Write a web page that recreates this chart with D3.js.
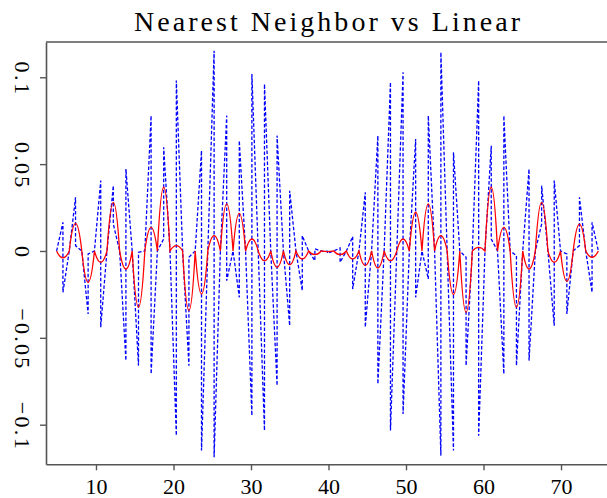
<!DOCTYPE html>
<html><head><meta charset="utf-8">
<script src="https://cdn.jsdelivr.net/npm/d3@7"></script>
<style>body{margin:0;background:#fff}svg{display:block}</style>
</head><body><svg id="c" width="607" height="498"></svg>
<script>
// sample positions (where both interpolation errors vanish)
const sampleX = [4.92,6.55,8.17,9.80,11.42,13.05,14.67,16.30,17.92,19.55,21.18,22.80,24.43,26.05,27.68,29.30,30.93,32.55,34.18,35.80,37.43,39.06,40.68,42.31,43.93,45.56,47.18,48.81,50.43,52.06,53.69,55.31,56.94,58.56,60.19,61.81,63.44,65.06,66.69,68.31,69.94,71.57,73.19,74.82];
// nearest neighbor: value just before and just after each jump (midway between samples)
const blueLeft  = [0.0165,0.0309,-0.0363,0.0405,0.0376,-0.0631,-0.0660,0.0779,0.0069,-0.1063,-0.0660,0.0578,0.1153,0.0779,-0.0267,-0.0948,-0.1034,-0.0775,-0.0430,-0.0228,-0.0056,-0.0002,0.0017,0.0083,0.0338,0.0664,0.0971,0.1029,0.0645,-0.0161,-0.1178,-0.1149,-0.0036,0.0981,0.0606,-0.0708,-0.0027,0.0472,0.0155,-0.0430,-0.0017,0.0031,-0.0238];
const blueRight = [-0.0238,0.0031,-0.0017,-0.0439,0.0155,0.0472,-0.0008,-0.0708,0.0597,0.0981,-0.0036,-0.1149,-0.1188,-0.0171,0.0635,0.1019,0.0961,0.0664,0.0347,0.0088,0.0012,-0.0013,-0.0065,-0.0219,-0.0439,-0.0766,-0.1034,-0.0938,-0.0267,0.0779,0.1144,0.0568,-0.0660,-0.1063,0.0069,0.0779,-0.0660,-0.0631,0.0376,0.0405,-0.0363,0.0309,0.0165];
// linear: extreme of each arc between samples
const redMid = [-0.0040,0.0159,-0.0180,-0.0065,0.0280,-0.0104,-0.0324,0.0136,0.0367,0.0031,-0.0343,-0.0248,0.0088,0.0271,0.0217,0.0069,-0.0056,-0.0094,-0.0079,-0.0046,-0.0021,-0.0004,-0.0021,-0.0046,-0.0084,-0.0098,-0.0056,0.0069,0.0223,0.0271,0.0088,-0.0251,-0.0353,0.0021,0.0367,0.0136,-0.0324,-0.0104,0.0280,-0.0065,-0.0175,0.0155,-0.0036];
const xTicks = [10,20,30,40,50,60,70];
const yTicks = [-0.1,-0.05,0,0.05,0.1];
const yTickLabels = ["\u22120.1","\u22120.05","0","0.05","0.1"];
const title = "Nearest Neighbor vs Linear";

const svg = d3.select("#c");
const x = d3.scaleLinear().domain([3.55,76.45]).range([46,611]);
const y = d3.scaleLinear().domain([-0.1228,0.1203]).range([464.3,42]);
const FONT = "'Liberation Serif','DejaVu Serif',serif";
const AX = "#555";

// blue nearest-neighbour curve
const bluePts = [[sampleX[0],0]];
for (let k=0;k<sampleX.length-1;k++){
  const m=(sampleX[k]+sampleX[k+1])/2;
  bluePts.push([m,blueLeft[k]],[m,blueRight[k]],[sampleX[k+1],0]);
}
const line = d3.line().x(d=>x(d[0])).y(d=>y(d[1]));
svg.append("path").attr("d",line(bluePts)).attr("fill","none")
  .attr("stroke","#0000ff").attr("stroke-width",1.3).attr("stroke-dasharray","3.5,2");

// red linear-interpolation curve: arcs between samples
const p = d3.path();
p.moveTo(x(sampleX[0]),y(0));
for (let k=0;k<sampleX.length-1;k++){
  const m=(sampleX[k]+sampleX[k+1])/2;
  p.quadraticCurveTo(x(m),y(2*redMid[k]),x(sampleX[k+1]),y(0));
}
svg.append("path").attr("d",p.toString()).attr("fill","none")
  .attr("stroke","#ff0000").attr("stroke-width",1.3);

// frame
svg.append("line").attr("x1",x.range()[0]).attr("x2",x.range()[1])
  .attr("y1",y.range()[1]).attr("y2",y.range()[1]).attr("stroke",AX).attr("stroke-width",1.6);

const gx = svg.append("g").attr("transform",`translate(0,${y.range()[0]})`)
  .call(d3.axisBottom(x).tickValues(xTicks).tickFormat(d3.format("d")).tickSize(6).tickSizeOuter(0));
const gy = svg.append("g").attr("transform",`translate(${x.range()[0]},0)`)
  .call(d3.axisLeft(y).tickValues(yTicks).tickFormat((d,i)=>yTickLabels[i]).tickSize(6).tickSizeOuter(0));
[gx,gy].forEach(g=>{
  g.select(".domain").attr("stroke",AX).attr("stroke-width",1.6);
  g.selectAll(".tick line").attr("stroke",AX).attr("stroke-width",1.4);
  g.selectAll("text").attr("fill","#000").style("font-family",FONT).style("font-size","22px");
});
gx.selectAll(".tick text").attr("y",null).attr("dy",null)
  .attr("transform",`translate(0,${494-y.range()[0]})`);
gy.selectAll(".tick text").attr("x",null).attr("dy",null).attr("text-anchor","middle")
  .attr("transform",`translate(${15-x.range()[0]},0) rotate(90)`)
  .each(function(){ const w=this.getComputedTextLength(); d3.select(this).attr("textLength",w*1.18).attr("lengthAdjust","spacing"); });

svg.append("text").attr("x",327).attr("y",31).attr("text-anchor","middle")
  .style("font-family",FONT).style("font-size","28px").attr("fill","#000")
  .attr("textLength",386).attr("lengthAdjust","spacing").text(title);
</script></body></html>
